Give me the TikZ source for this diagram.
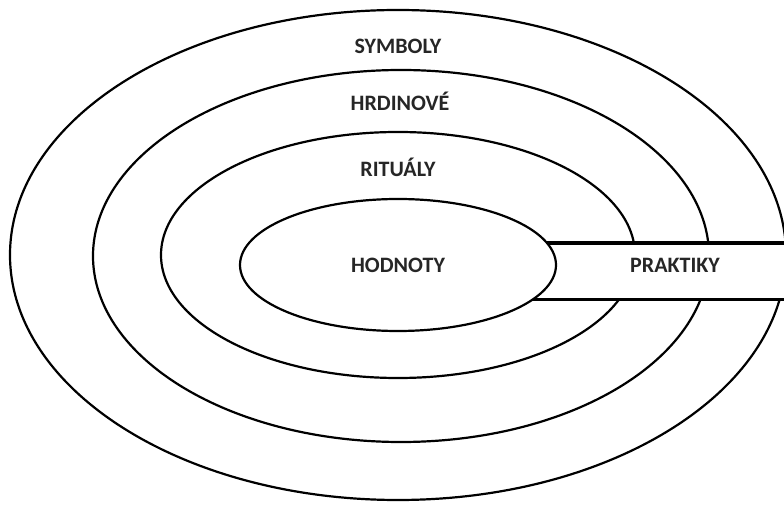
\documentclass[tikz,border=0pt]{standalone}
\usepackage{fontspec}
\setmainfont{Carlito}
\begin{document}
\begin{tikzpicture}[x=1pt,y=1pt,
  ring/.style={draw=black,line width=2.2pt,fill=white},
  lbl/.style={font=\fontsize{22}{24}\selectfont\bfseries,text=black!85,inner sep=0pt}]
\useasboundingbox (0,0) rectangle (784,506);
\clip (0,0) rectangle (784,506);
\fill[white] (0,0) rectangle (784,506);
% rings
\draw[ring] (398,251) ellipse [x radius=388,y radius=245];
\draw[ring] (401,250) ellipse [x radius=308,y radius=186];
\draw[ring] (398,251) ellipse [x radius=237,y radius=123];
% practices band
\fill[white] (500,206) rectangle (800,263);
\draw[line width=3.6pt] (500,263) -- (800,263);
\draw[line width=3pt] (500,206) -- (800,206);
% values core
\draw[ring] (398,241) ellipse [x radius=158,y radius=66];
% labels
\node[lbl] (sym) at (398,460) {SYMBOLY};
\node[lbl] (hrd) at (400,405) {HRDINOVÉ};
\node[lbl] (rit) at (398,339) {RITUÁLY};
\node[lbl] (hod) at (398,241) {HODNOTY};
\node[lbl] (pra) at (675,241) {PRAKTIKY};
\end{tikzpicture}
\end{document}
